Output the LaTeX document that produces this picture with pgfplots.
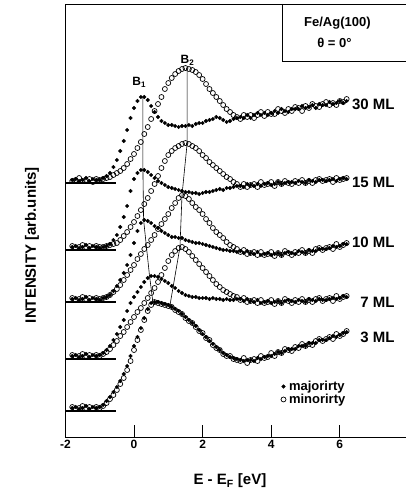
\documentclass[border=0pt]{standalone}
\usepackage{fontspec}
\setmainfont{Liberation Sans}
\usepackage{pgfplots}
\usepackage{pgfplotstable}
\pgfplotsset{compat=1.18}
\pgfplotstableread{
x M30 m30 M15 m15 M10 m10 M7 m7 M3 m3
-1.8 180 181 247 246 299 298 356 355 408 407
-1.7 179 180 246 248 298 300 355 357 407 409
-1.6 181 178 248 247 300 299 357 356 409 408
-1.5 180 181 247 245 299 297 356 354 408 406
-1.4 178 180 245 247 297 299 354 356 406 408
-1.3 181 179 248 246 300 298 357 355 409 407
-1.2 179 182 246 248 298 300 355 357 407 409
-1.1 180 179 247 246 299 298 356 355 408 407
-1.0 180 180 248 247 300 299 355 356 407 408
-0.9 178 179 247 247 298 298 353 354 405 406
-0.8 176 178 246 246 297 297 350 352 401 403
-0.7 173 177 244 245 295 295 346 349 397 399
-0.6 167 175 240 244 291 292 340 345 392 395
-0.5 160 173 235 243 286 289 334 341 387 390
-0.4 151 171 227 240 280 285 327 336 381 384
-0.3 141 168 217 236 273 280 320 332 374 378
-0.2 130 164 206 232 265 275 311 327 366 370
-0.1 118 159 191 227 255 270 303 322 356 361
0.0 108 154 179 222 243 265 297 317 346 350
0.1 101 148 173 216 231 259 292 312 337 340
0.2 97 142 170 210 223 254 287 308 328 330
0.3 97 134 170 204 220 249 282 303 318 320
0.4 100 127 172 198 221 245 278 298 309 311
0.5 106 119 175 191 223 240 276 293 303 305
0.6 112 111 178 184 226 235 276 288 302 302
0.7 117 104 181 176 228 229 277 282 302 303
0.8 121 97 183 168 231 224 279 275 303 304
0.9 123 89 185 161 233 219 281 268 304 305
1.0 125 83 187 155 235 214 283 261 305 306
1.1 125 78 188 151 237 208 286 255 307 307
1.2 126 74 189 148 237 203 288 251 309 310
1.3 127 71 190 146 238 198 291 248 311 312
1.4 126 69 191 144 238 195 293 247 314 314
1.5 126 68 192 143 240 196 295 249 317 318
1.6 125 69 192 144 241 199 296 252 320 321
1.7 126 70 193 146 242 203 297 256 323 323
1.8 124 72 193 148 243 207 297 260 326 327
1.9 123 75 194 151 243 210 298 264 330 331
2.0 123 79 193 155 244 214 298 268 334 333
2.1 121 84 192 158 245 219 298 272 337 338
2.2 120 89 192 162 246 223 299 276 341 340
2.3 119 93 191 165 247 228 298 280 344 345
2.4 117 97 190 168 248 232 299 284 347 348
2.5 118 101 189 171 249 235 299 287 350 350
2.6 120 105 190 174 250 238 300 290 353 354
2.7 122 109 188 177 250 242 299 292 355 356
2.8 121 112 188 179 251 245 300 294 357 356
2.9 119 115 187 182 251 247 300 296 358 359
3.0 118 117 186 184 252 249 299 297 359 360
3.1 117 119 186 187 251 252 299 300 360 361
3.2 118 115 187 184 253 250 301 298 361 358
3.3 115 117 184 187 251 254 299 302 360 363
3.4 118 115 185 185 253 253 301 301 360 360
3.5 115 118 186 184 254 252 302 300 361 359
3.6 113 115 184 187 252 255 300 303 358 361
3.7 115 112 186 182 255 252 303 300 359 356
3.8 113 116 184 185 254 255 302 303 357 358
3.9 115 112 183 184 253 254 301 302 356 357
4.0 113 114 185 182 255 252 303 300 356 353
4.1 111 114 184 186 254 256 302 304 354 356
4.2 113 109 182 182 253 253 301 301 352 352
4.3 109 111 184 184 255 255 303 303 353 353
4.4 111 113 183 181 253 251 301 299 351 349
4.5 112 109 182 183 252 253 300 301 349 350
4.6 109 111 182 184 253 255 301 303 349 351
4.7 109 107 183 181 254 252 302 300 349 347
4.8 109 108 181 183 251 253 300 302 346 348
4.9 106 111 182 180 252 250 301 299 346 344
5.0 108 106 183 183 253 253 302 302 346 346
5.1 107 108 180 181 250 251 299 300 343 344
5.2 105 104 181 183 251 253 300 302 343 345
5.3 108 106 182 180 251 249 301 299 343 341
5.4 104 107 180 179 249 248 299 298 340 339
5.5 105 104 180 181 249 250 300 301 340 341
5.6 105 102 181 180 249 248 300 299 340 339
5.7 102 105 180 179 248 247 299 298 338 337
5.8 104 103 179 182 246 249 298 301 336 339
5.9 103 105 181 178 247 244 299 296 337 334
6.0 101 101 179 180 246 247 298 299 335 336
6.1 103 102 178 179 244 245 296 297 333 334
6.2 101 99 179 178 244 243 297 296 332 331
}\data
\pgfplotsset{
  minor/.style={only marks, mark=o, mark size=2.5pt, mark options={line width=0.7pt, draw=black}, forget plot},
  major/.style={only marks, mark=*, mark size=1.8pt, mark options={draw=black, fill=black}, forget plot},
}
\begin{document}
\begin{tikzpicture}
\path[use as bounding box] (-65.4pt,-54pt) rectangle (340.6pt,437pt);
\begin{axis}[
  at={(0pt,0pt)}, anchor=south west,
  scale only axis, width=340.6pt, height=433pt,
  xmin=-2, xmax=7.93, ymin=4, ymax=437, y dir=reverse,
  axis lines*=left, axis line style={-, line width=0.9pt},
  xtick={-2,0,2,4,6}, ytick=\empty,
  major tick length=12pt, tick align=inside,
  tick style={line width=0.9pt, black},
  /pgf/number format/assume math mode=true,
  xticklabel style={font=\bfseries\fontsize{12}{12}\selectfont},
  xlabel={E - E\textsubscript{F} [eV]},
  xlabel style={font=\bfseries\fontsize{15}{15}\selectfont, at={(axis description cs:0.483,0)}, anchor=center, yshift=-44pt},
  ylabel={INTENSITY [arb.units]},
  ylabel style={font=\bfseries\fontsize{15}{15}\selectfont, at={(axis description cs:-0.098,0.443)}, anchor=center},
  clip=false,
  legend cell align=left,
  legend image code/.code={\draw[mark repeat=2,mark phase=2,#1] plot coordinates {(0pt,0pt) (4pt,0pt) (13pt,0pt)};},
  legend style={at={(axis cs:4.28,393)}, anchor=west, draw=none, fill=none, inner sep=0pt, row sep=-2pt,
    nodes={inner xsep=3pt},
    font=\bfseries\fontsize{13}{14}\selectfont},
]
\addlegendimage{only marks, mark=*, mark size=1.8pt, mark options={draw=black, fill=black}}
\addlegendentry{majorirty}
\addlegendimage{only marks, mark=o, mark size=2.5pt, mark options={line width=0.7pt, draw=black}}
\addlegendentry{minorirty}
% baselines
\addplot[line width=1.2pt, forget plot] coordinates {(-2,183) (-0.52,183)};
\addplot[line width=1.2pt, forget plot] coordinates {(-2,250) (-0.52,250)};
\addplot[line width=1.2pt, forget plot] coordinates {(-2,302) (-0.52,302)};
\addplot[line width=1.2pt, forget plot] coordinates {(-2,359) (-0.52,359)};
\addplot[line width=1.2pt, forget plot] coordinates {(-2,411) (-0.52,411)};
% peak guide lines
\addplot[line width=0.6pt, forget plot] coordinates {(0.26,97) (0.26,170) (0.28,220) (0.45,275) (0.55,302)};
\addplot[line width=0.6pt, forget plot] coordinates {(1.55,68) (1.55,143) (1.40,195) (1.34,247) (1.05,305)};
% data
\addplot[minor] table[x=x, y=m30] {\data};
\addplot[major] table[x=x, y=M30] {\data};
\addplot[minor] table[x=x, y=m15] {\data};
\addplot[major] table[x=x, y=M15] {\data};
\addplot[minor] table[x=x, y=m10] {\data};
\addplot[major] table[x=x, y=M10] {\data};
\addplot[minor] table[x=x, y=m7] {\data};
\addplot[major] table[x=x, y=M7] {\data};
\addplot[minor] table[x=x, y=m3] {\data};
\addplot[major] table[x=x, y=M3] {\data};
% labels
\node[anchor=east, font=\bfseries\fontsize{15}{15}\selectfont] at (axis cs:7.70,104) {30 ML};
\node[anchor=east, font=\bfseries\fontsize{15}{15}\selectfont] at (axis cs:7.70,182) {15 ML};
\node[anchor=east, font=\bfseries\fontsize{15}{15}\selectfont] at (axis cs:7.70,242) {10 ML};
\node[anchor=east, font=\bfseries\fontsize{15}{15}\selectfont] at (axis cs:7.70,302) {7 ML};
\node[anchor=east, font=\bfseries\fontsize{15}{15}\selectfont] at (axis cs:7.70,337) {3 ML};
\node[font=\bfseries\fontsize{12}{12}\selectfont] at (axis cs:0.15,82) {B\textsubscript{1}};
\node[font=\bfseries\fontsize{12}{12}\selectfont] at (axis cs:1.56,60) {B\textsubscript{2}};
\end{axis}
\draw[line width=0.9pt] (0pt,433pt) -- (345pt,433pt);
\draw[line width=0.9pt] (216.6pt,433pt) -- (216.6pt,376pt) -- (345pt,376pt);
\node[font=\bfseries\fontsize{13}{13}\selectfont] at (272pt,414pt) {Fe/Ag(100)};
\node[font=\bfseries\fontsize{13}{13}\selectfont] at (269pt,394pt) {θ = 0°};
\end{tikzpicture}
\end{document}
